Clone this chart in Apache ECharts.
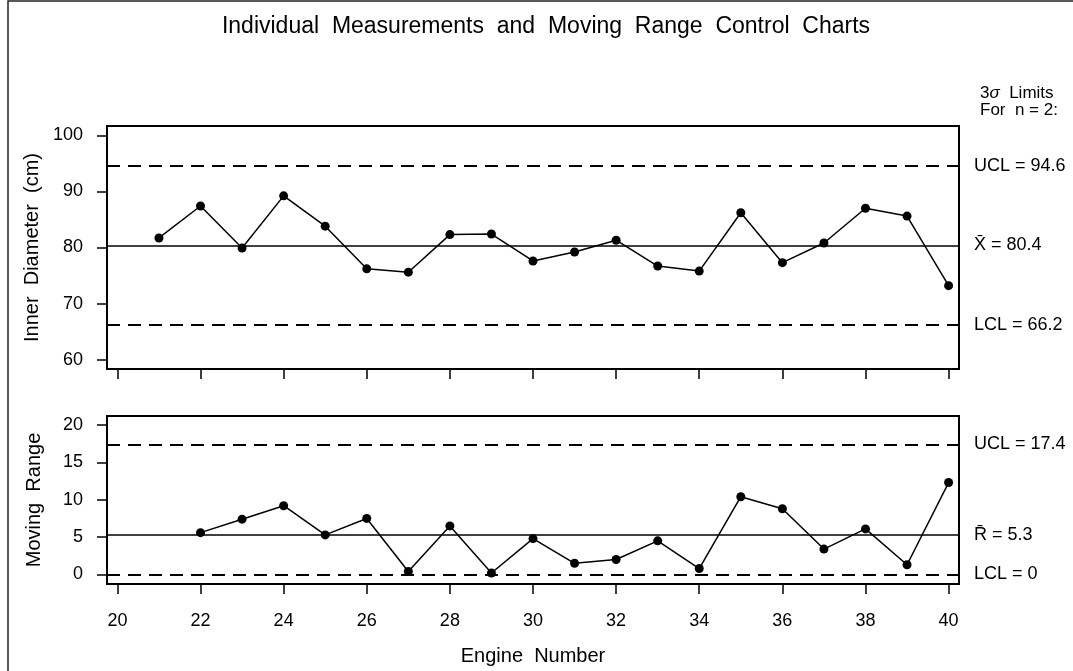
<!DOCTYPE html>
<html>
<head>
<meta charset="utf-8">
<script src="https://cdn.jsdelivr.net/npm/echarts@6/dist/echarts.min.js"></script>
<style>
html,body{margin:0;padding:0;background:#fff;}
#chart{width:1073px;height:671px;}
</style>
</head>
<body>
<div id="chart"></div>
<script>
// ---- data ----
var engines = [21,22,23,24,25,26,27,28,29,30,31,32,33,34,35,36,37,38,39,40];
var diameter = [81.7,87.4,79.9,89.2,83.8,76.2,75.6,82.3,82.4,77.6,79.2,81.3,76.7,75.8,86.2,77.3,80.8,87.0,85.6,73.2];
var rangeEngines = [22,23,24,25,26,27,28,29,30,31,32,33,34,35,36,37,38,39,40];
var movingRange = [5.6,7.4,9.2,5.3,7.5,0.4,6.5,0.2,4.8,1.5,2.0,4.5,0.8,10.4,8.8,3.4,6.1,1.3,12.3];
var xTicks = [20,22,24,26,28,30,32,34,36,38,40];
var diamTicks = [60,70,80,90,100];
var rangeTicks = [0,5,10,15,20];
var xLimits = {ucl:94.6, center:80.4, lcl:66.2};
var rLimits = {ucl:17.4, center:5.3, lcl:0};

var FONT = 'Liberation Sans';
var chart = echarts.init(document.getElementById('chart'));

function pairs(xs, ys){ return xs.map(function(x,i){ return [x, ys[i]]; }); }

var dash = {color:'#000', width:2, type:[13,8]};
var solid = {color:'#000', width:1.5, type:'solid'};
var lblBase = {show:true, position:'end', distance:15, color:'#000', fontFamily:FONT, fontSize:18, align:'left'};

function limitLines(lim, names){
  return {
    silent:true, symbol:['none','none'], animation:false,
    data:[
      {yAxis:lim.ucl, lineStyle:dash, label:Object.assign({}, lblBase, {formatter:names[0] + ' = ' + lim.ucl})},
      {yAxis:lim.center, lineStyle:solid, label:Object.assign({}, lblBase, {formatter:names[1] + ' = ' + lim.center})},
      {yAxis:lim.lcl, lineStyle:dash, label:Object.assign({}, lblBase, {formatter:names[2] + ' = ' + lim.lcl})}
    ]
  };
}

function xAxisCfg(gridIndex, showLabels){
  return {
    type:'value', gridIndex:gridIndex, min:19.75, max:40.25,
    axisLine:{show:false, onZero:false},
    axisTick:{show:true, inside:false, length:10, customValues:xTicks, lineStyle:{color:'#000', width:1.5}},
    axisLabel:{show:showLabels, customValues:xTicks, margin:28, color:'#000', fontFamily:FONT, fontSize:18},
    splitLine:{show:false},
    name: showLabels ? 'Engine  Number' : '',
    nameLocation:'middle', nameGap:62,
    nameTextStyle:{color:'#000', fontFamily:FONT, fontSize:20}
  };
}
function yAxisCfg(gridIndex, min, max, ticks, name){
  return {
    type:'value', gridIndex:gridIndex, min:min, max:max,
    axisLine:{show:false, onZero:false},
    axisTick:{show:true, inside:false, length:10, customValues:ticks, lineStyle:{color:'#000', width:1.5}},
    axisLabel:{show:true, customValues:ticks, margin:24, color:'#000', fontFamily:FONT, fontSize:18},
    splitLine:{show:false},
    name:name, nameLocation:'middle', nameGap:63, nameRotate:90,
    nameTextStyle:{color:'#000', fontFamily:FONT, fontSize:20}
  };
}

var option = {
  animation:false,
  backgroundColor:'#fff',
  title:[
    {text:'Individual  Measurements  and  Moving  Range  Control  Charts', left:541, top:10, textAlign:'center',
     textStyle:{color:'#000', fontFamily:FONT, fontSize:23, fontWeight:'normal'}},
    {text:'3{s|σ}  Limits\nFor  n = 2:', left:975, top:80,
     textStyle:{color:'#000', fontFamily:FONT, fontSize:17, fontWeight:'normal', lineHeight:17,
       rich:{s:{fontStyle:'italic', fontFamily:FONT, fontSize:17, color:'#000'}}}}
  ],
  grid:[
    {left:107, top:126, width:852, height:243, show:true, borderColor:'#000', borderWidth:2, containLabel:false, outerBoundsMode:'none'},
    {left:107, top:416, width:852, height:168, show:true, borderColor:'#000', borderWidth:2, containLabel:false, outerBoundsMode:'none'}
  ],
  xAxis:[ xAxisCfg(0,false), xAxisCfg(1,true) ],
  yAxis:[
    yAxisCfg(0, 58.35, 101.65, diamTicks, 'Inner  Diameter  (cm)'),
    yAxisCfg(1, -1.27, 21.2, rangeTicks, 'Moving  Range')
  ],
  graphic:[
    {type:'polyline', silent:true, shape:{points:[[8,1100],[8,1],[1100,1]]}, style:{stroke:'#222', lineWidth:1.5, fill:null}}
  ],
  series:[
    {type:'line', xAxisIndex:0, yAxisIndex:0, data:pairs(engines, diameter),
     symbol:'circle', symbolSize:9, itemStyle:{color:'#000'}, lineStyle:{color:'#000', width:1.5},
     markLine:limitLines(xLimits, ['UCL','X\u0304','LCL'])},
    {type:'line', xAxisIndex:1, yAxisIndex:1, data:pairs(rangeEngines, movingRange),
     symbol:'circle', symbolSize:9, itemStyle:{color:'#000'}, lineStyle:{color:'#000', width:1.5},
     markLine:limitLines(rLimits, ['UCL','R\u0304','LCL'])}
  ]
};
chart.setOption(option);
</script>
</body>
</html>
